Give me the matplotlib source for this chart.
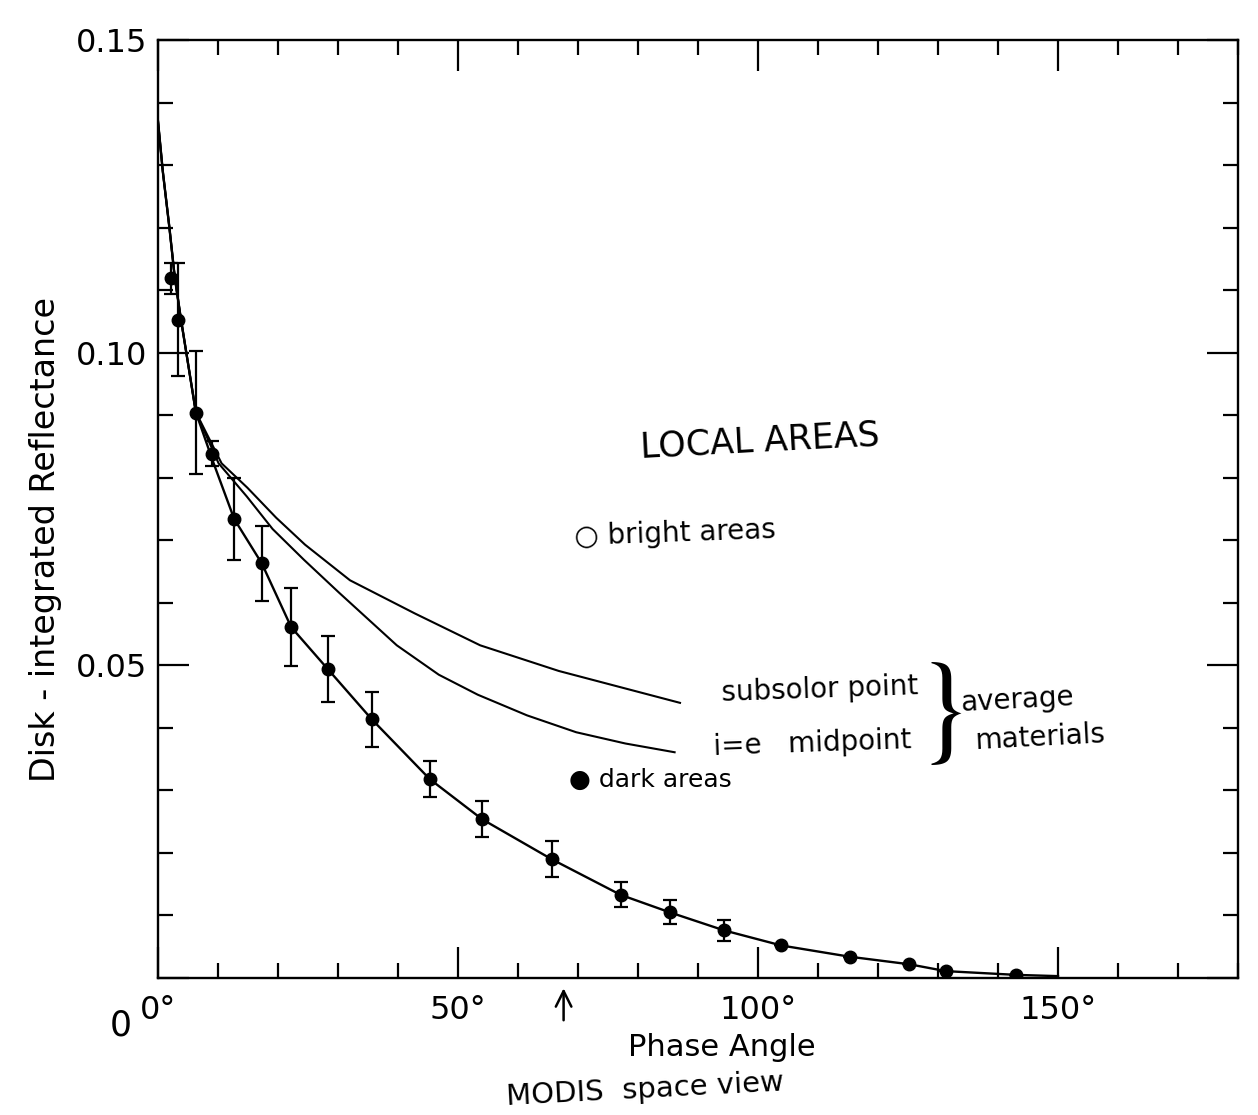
import matplotlib
matplotlib.use("Agg")
import matplotlib.pyplot as plt
from matplotlib.ticker import FixedLocator, MultipleLocator

# ---------------- data ----------------
# dark-area measurements (points with error bars)
phase_dark = [2.2, 3.4, 6.3, 9.0, 12.7, 17.3, 22.2, 28.3, 35.6, 45.3,
              54.0, 65.6, 77.1, 85.3, 94.4, 103.9, 115.3, 125.2, 131.3, 143.0]
refl_dark = [0.1119, 0.1053, 0.0904, 0.0838, 0.0734, 0.0663, 0.0561, 0.0494,
             0.0414, 0.0318, 0.0254, 0.0190, 0.0133, 0.0105, 0.0076, 0.0052,
             0.0034, 0.0022, 0.0011, 0.0005]
err_dark = [0.0025, 0.0090, 0.0098, 0.0020, 0.0066, 0.0060, 0.0062, 0.0053,
            0.0044, 0.0029, 0.0029, 0.0029, 0.0020, 0.0019, 0.0017, 0.0,
            0.0, 0.0, 0.0, 0.0]

# model curve through the dark-area points
fit_phase = [0, 0.8, 1.9, 2.8, 3.8, 6.3, 9.2, 12.7, 17.3, 22.2, 28.3, 35.6,
             45.3, 54.0, 65.6, 77.1, 85.3, 94.4, 103.9, 115.3, 125.2, 131.3,
             143.0, 150.0]
fit_refl = [0.137, 0.129, 0.120, 0.112, 0.1055, 0.0905, 0.0825, 0.0734,
            0.0663, 0.0561, 0.0494, 0.0414, 0.0318, 0.0254, 0.0190, 0.0133,
            0.0105, 0.0076, 0.0052, 0.0034, 0.0022, 0.0011, 0.0005, 0.0003]

# average materials: subsolor point
sub_phase = [0, 0.8, 1.9, 2.8, 3.8, 6.3, 10.6, 14.9, 19.7, 24.5, 32.0, 42.8,
             53.7, 66.8, 76.7, 87.0]
sub_refl = [0.137, 0.129, 0.120, 0.112, 0.1055, 0.0905, 0.0823, 0.0784,
            0.0736, 0.0693, 0.0636, 0.0583, 0.0532, 0.0491, 0.0466, 0.0440]

# average materials: i=e midpoint
mid_phase = [0, 0.8, 1.9, 2.8, 3.8, 6.3, 10.1, 14.8, 19.1, 24.3, 30.2, 39.8,
             46.8, 53.3, 61.5, 69.7, 77.9, 86.1]
mid_refl = [0.137, 0.129, 0.120, 0.112, 0.1055, 0.0905, 0.0823, 0.0770,
            0.0718, 0.0669, 0.0616, 0.0532, 0.0485, 0.0453, 0.0420, 0.0393,
            0.0375, 0.0361]

modis_angle = 67.6

x_major = [0, 50, 100, 150]
x_labels = ["0°", "50°", "100°", "150°"]
y_major = [0.05, 0.10, 0.15]
y_labels = ["0.05", "0.10", "0.15"]

# ---------------- figure ----------------
W, H = 1258, 1115
fig = plt.figure(figsize=(W / 100, H / 100), dpi=100)
fig.patch.set_facecolor("white")
L, R, T, B = 158, 1238, 40, 978
ax = fig.add_axes([L / W, 1 - B / H, (R - L) / W, (B - T) / H])
ax.set_xlim(0, 180)
ax.set_ylim(0, 0.15)

for s in ax.spines.values():
    s.set_linewidth(1.7)

ax.xaxis.set_major_locator(FixedLocator(x_major))
ax.xaxis.set_minor_locator(MultipleLocator(10))
ax.set_xticklabels(x_labels)
ax.yaxis.set_major_locator(FixedLocator([0.0] + y_major))
ax.yaxis.set_minor_locator(MultipleLocator(0.01))
ax.set_yticklabels([""] + y_labels)

ax.tick_params(which="both", direction="in", top=True, right=True,
               width=1.6, colors="black", labelsize=23)
ax.tick_params(which="major", length=22)
ax.tick_params(which="minor", length=11)
ax.tick_params(axis="x", which="major", pad=12)
ax.tick_params(axis="y", which="major", pad=8)

# "0" of the y axis sits below the corner
ax.annotate("0", xy=(0, 0), xycoords="data", xytext=(-27, -34),
            textcoords="offset points", fontsize=25, ha="center", va="center")

ax.set_xlabel("Phase Angle", fontsize=22)
ax.xaxis.set_label_coords((722 - L) / (R - L), -(1033 - B) / (B - T))
ax.set_ylabel("Disk - integrated Reflectance", fontsize=24)
ax.yaxis.set_label_coords(-(L - 62) / (R - L), (B - 540) / (B - T))

# curves
ax.plot(sub_phase, sub_refl, color="black", lw=1.5)
ax.plot(mid_phase, mid_refl, color="black", lw=1.5)
ax.plot(fit_phase, fit_refl, color="black", lw=1.7)

# measurements
ax.errorbar(phase_dark, refl_dark, yerr=err_dark, fmt="o", ms=9,
            color="black", ecolor="black", elinewidth=1.6, capsize=5,
            capthick=1.6)

# MODIS space view arrow
ax.annotate("", xy=(modis_angle, -0.008), xycoords=("data", "axes fraction"),
            xytext=(modis_angle, -0.048), textcoords=("data", "axes fraction"),
            arrowprops=dict(arrowstyle="->", lw=1.8, color="black",
                            mutation_scale=28), annotation_clip=False)

# ---------------- handwritten annotations ----------------
def ftext(px, py, s, **kw):
    fig.text(px / W, 1 - py / H, s, ha="center", va="center", **kw)

ftext(760, 441, "LOCAL AREAS", fontsize=25, rotation=3)
ftext(675, 533, "○ bright areas", fontsize=20, rotation=2)
ftext(650, 780, "● dark areas", fontsize=18)
ftext(820, 690, "subsolor point", fontsize=20, rotation=2)
ftext(812, 744, "i=e   midpoint", fontsize=20, rotation=2)
ftext(944, 716, "}", fontsize=86, family="STIXGeneral")
ftext(1017, 700, "average", fontsize=20, rotation=3)
ftext(1040, 738, "materials", fontsize=20, rotation=3)
ftext(645, 1090, "MODIS  space view", fontsize=21, rotation=3)

fig.savefig("out.png", dpi=100, facecolor="white")
